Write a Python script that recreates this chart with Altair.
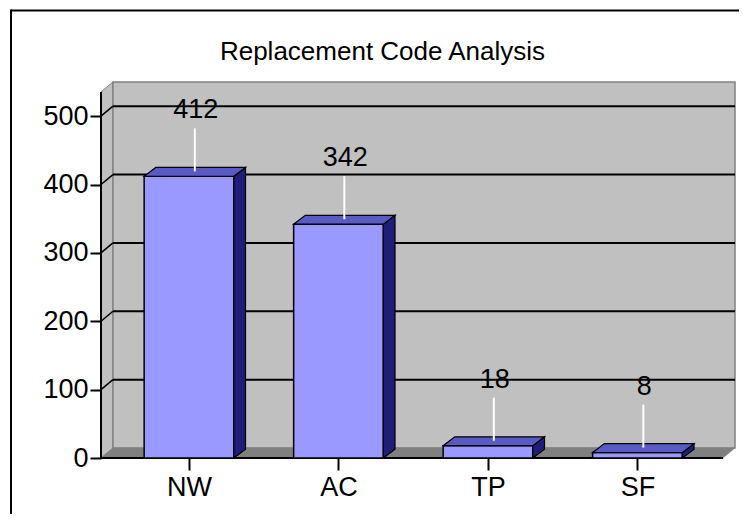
import altair as alt
import pandas as pd

# ---- data ----
categories = ["NW", "AC", "TP", "SF"]
values = [412, 342, 18, 8]
positions = [0, 1, 2, 3]
y_ticks = [0, 100, 200, 300, 400, 500]
grid_values = [100, 200, 300, 400, 500]
title_text = "Replacement Code Analysis"

# ---- geometry constants (data units) ----
XMIN, XMAX = -0.5886, 3.6522
YMAX = 550
DX, DY = 0.08, 14.6        # wall depth
BDX, BDY = 0.078, 13.0     # bar depth
HW = 0.3                   # bar half width
FONT = "Liberation Sans"

xs = alt.Scale(domain=[XMIN, XMAX], nice=False, zero=False)
ys = alt.Scale(domain=[0, YMAX], nice=False, zero=False)

label_expr = "[" + ",".join(f"'{c}'" for c in categories) + "][datum.value]"
x_axis = alt.Axis(
    values=positions, labelExpr=label_expr, title=None, grid=False, domain=False,
    tickSize=12, tickWidth=2, tickColor="black", labelFontSize=27, labelFont=FONT,
    labelColor="black", labelPadding=4, labelFlush=False, labelOverlap=False)
y_axis = alt.Axis(
    values=y_ticks, title=None, grid=False, domain=False, tickSize=11, tickWidth=2,
    tickColor="black", labelFontSize=27, labelFont=FONT, labelColor="black",
    labelPadding=2, labelOverlap=False)


def X(field="x"):
    return alt.X(f"{field}:Q", scale=xs, axis=x_axis)


def Y(field="y"):
    return alt.Y(f"{field}:Q", scale=ys, axis=y_axis, stack=None)


# left side wall
side_wall = pd.DataFrame({"x": [XMIN, XMIN + DX], "y": [0, DY], "y2": [YMAX - DY, YMAX]})
side_wall_l = alt.Chart(side_wall).mark_area(orient="vertical", fill="#C0C0C0", stroke="#808080", strokeWidth=1).encode(
    x=X(), y=Y(), y2="y2:Q")

# back wall
back_wall = pd.DataFrame({"x": [XMIN + DX], "x2": [XMAX], "y": [DY], "y2": [YMAX]})
back_wall_l = alt.Chart(back_wall).mark_rect(fill="#C0C0C0", stroke="#808080", strokeWidth=1.5).encode(
    x=X(), x2="x2:Q", y=Y(), y2="y2:Q")

# floor
floor = pd.DataFrame({"x": [XMIN, XMIN + DX, XMAX - DX, XMAX],
                      "y": [0, 0, 0, DY], "y2": [0, DY, DY, DY]})
floor_l = alt.Chart(floor).mark_area(orient="vertical", fill="#808080", stroke="#808080", strokeWidth=0.5).encode(
    x=X(), y=Y(), y2="y2:Q")

# gridlines on back wall + connectors
grid = pd.DataFrame({"v": grid_values})
grid = grid.assign(xa=XMIN, xb=XMIN + DX, xc=XMAX, vb=grid["v"] + DY)
grid_h = alt.Chart(grid).mark_rule(color="black", strokeWidth=2).encode(
    x=X("xb"), x2="xc:Q", y=Y("vb"))
grid_c = alt.Chart(grid).mark_rule(color="black", strokeWidth=1.5).encode(
    x=X("xa"), x2="xb:Q", y=Y("v"), y2="vb:Q")

# axis lines
yaxis_df = pd.DataFrame({"x": [XMIN], "y": [0], "y2": [YMAX - DY]})
yaxis_line = alt.Chart(yaxis_df).mark_rule(color="black", strokeWidth=2).encode(
    x=X(), y=Y(), y2="y2:Q")
xaxis_df = pd.DataFrame({"x": [XMIN], "x2": [XMAX - DX], "y": [0]})
xaxis_line = alt.Chart(xaxis_df).mark_rule(color="black", strokeWidth=2).encode(
    x=X(), x2="x2:Q", y=Y())

# bars
bars = pd.DataFrame({"cat": categories, "pos": positions, "v": values})
bars = bars.assign(x0=bars["pos"] - HW, x1=bars["pos"] + HW, zero=0)

front = alt.Chart(bars).mark_rect(fill="#9999FF", stroke="black", strokeWidth=1.5).encode(
    x=X("x0"), x2="x1:Q", y=Y("zero"), y2="v:Q")

side_rows, top_rows = [], []
for c, p, v in zip(categories, positions, values):
    side_rows += [{"cat": c, "x": p + HW, "y": 0, "y2": v},
                  {"cat": c, "x": p + HW + BDX, "y": BDY, "y2": v + BDY}]
    top_rows += [{"cat": c, "x": p - HW, "y": v, "y2": v},
                 {"cat": c, "x": p - HW + BDX, "y": v, "y2": v + BDY},
                 {"cat": c, "x": p + HW, "y": v, "y2": v + BDY},
                 {"cat": c, "x": p + HW + BDX, "y": v + BDY, "y2": v + BDY}]
side_df = pd.DataFrame(side_rows)
top_df = pd.DataFrame(top_rows)

side = alt.Chart(side_df).mark_area(orient="vertical", fill="#1E1E7A", stroke="black", strokeWidth=1.2).encode(
    x=X(), y=Y(), y2="y2:Q", detail="cat:N")
top = alt.Chart(top_df).mark_area(orient="vertical", fill="#5A5AC4", stroke="black", strokeWidth=1.2).encode(
    x=X(), y=Y(), y2="y2:Q", detail="cat:N")

# leader lines and labels
bars = bars.assign(lx=bars["pos"] + BDX / 2)
leaders = alt.Chart(bars).mark_rule(color="white", strokeWidth=2, yOffset=-5, y2Offset=-48).encode(
    x=X("lx"), y=Y("v"), y2="v:Q")
labels = alt.Chart(bars).mark_text(fontSize=27, font=FONT, color="black", dy=-66, dx=1,
                                   baseline="middle", align="center").encode(
    x=X("lx"), y=Y("v"), text="v:Q")

# chart title and outer frame
title_l = alt.Chart(pd.DataFrame({"t": [title_text]})).mark_text(
    fontSize=26, font=FONT, color="black", baseline="middle", align="center").encode(
    x=alt.value(281.5), y=alt.value(-30), text="t:N")
frame_top = alt.Chart(pd.DataFrame({"a": [0]})).mark_rule(color="black", strokeWidth=2).encode(
    x=alt.value(-90), x2=alt.value(640), y=alt.value(-71.5))
frame_left = alt.Chart(pd.DataFrame({"a": [0]})).mark_rule(color="black", strokeWidth=2).encode(
    x=alt.value(-90), y=alt.value(-72.5), y2=alt.value(440))

chart = alt.layer(
    side_wall_l, back_wall_l, floor_l, grid_h, grid_c, yaxis_line, xaxis_line,
    front, side, top, leaders, labels, title_l, frame_top, frame_left,
).properties(
    width=634, height=376,
    autosize=alt.AutoSizeParams(type="none"),
    padding={"left": 93, "top": 74, "right": 4, "bottom": 56},
    background="white",
).configure_view(stroke=None)

chart.save("out.html", embed_options={"renderer": "svg", "actions": False})
